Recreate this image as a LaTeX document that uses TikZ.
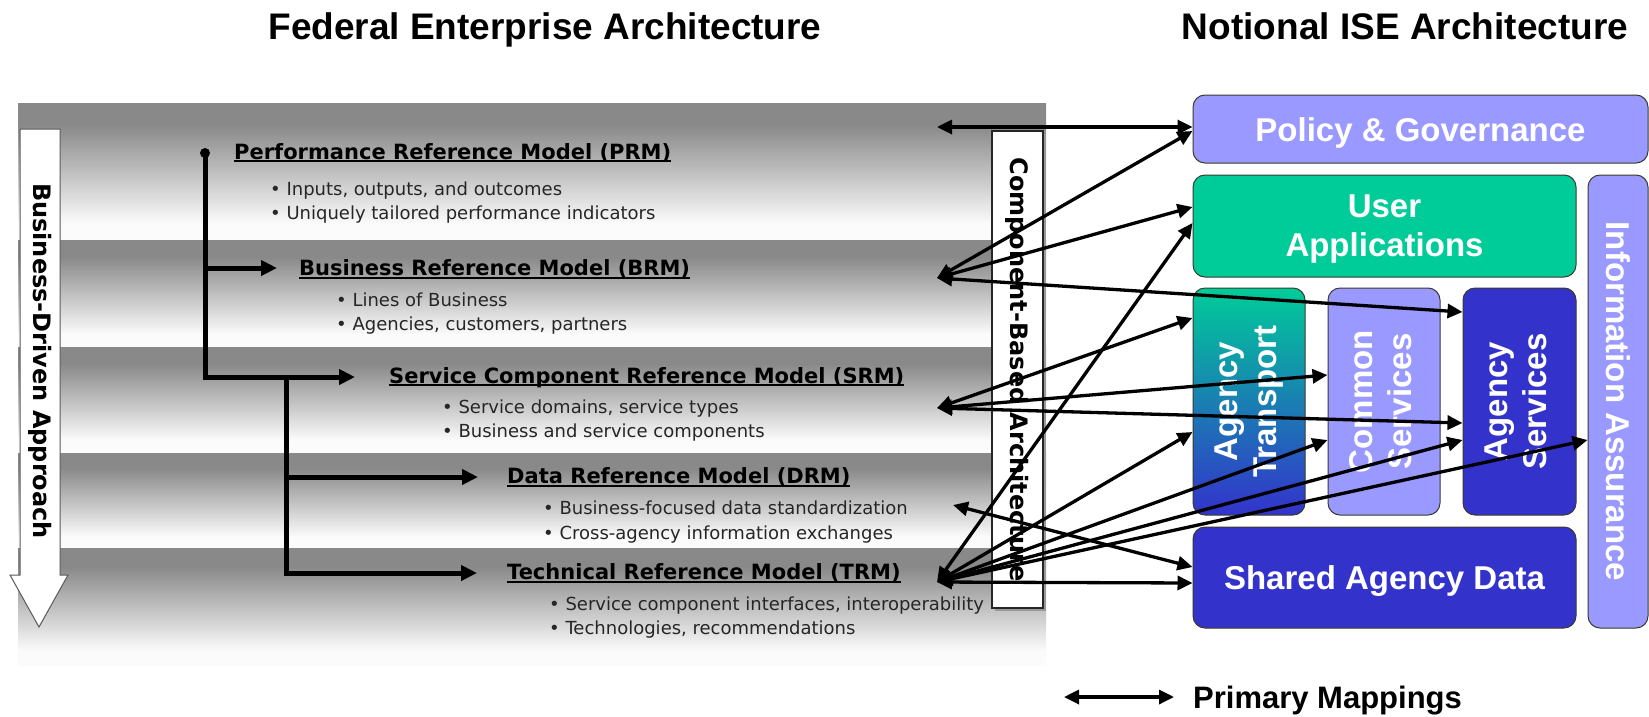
\documentclass[tikz,border=0pt]{standalone}
\usepackage{fontspec}
\setmainfont{Liberation Sans}
\newfontfamily\dvfont{DejaVu Sans}
\usepackage{graphicx}
\usetikzlibrary{arrows.meta,shadows}
\definecolor{banddark}{HTML}{898989}
\definecolor{bandlight}{HTML}{FBFBFB}
\definecolor{iselav}{HTML}{9999FF}
\definecolor{isegreen}{HTML}{00CC99}
\definecolor{iseblue}{HTML}{3333CC}
\definecolor{iseedge}{HTML}{3A3A2A}
\pgfdeclareverticalshading{bandshade}{100bp}{color(0bp)=(bandlight); color(31bp)=(bandlight); color(67bp)=(banddark); color(100bp)=(banddark)}
\newcommand\ulbf[1]{\sbox0{#1}\rlap{\rule[-3pt]{\wd0}{2pt}}\usebox0}
\begin{document}
\begin{tikzpicture}[x=1pt,y=-1pt,
  mtitle/.style={anchor=base west,inner sep=0,font=\dvfont\bfseries\fontsize{21}{25}\selectfont},
  bul/.style={anchor=base west,inner sep=0,text=black!85,font=\dvfont\fontsize{18}{22}\selectfont},
  flow/.style={line width=5pt,-{Triangle[length=16pt,width=15pt]}},
  mapline/.style={line width=3.3pt,{Triangle[length=15pt,width=14pt]}-{Triangle[length=15pt,width=14pt]}},
  isebox/.style={draw=iseedge,line width=1pt,rounded corners=12pt,inner sep=0,text=white,align=center,font=\bfseries\fontsize{33}{39}\selectfont},
  fhead/.style={anchor=base,inner sep=0,font=\bfseries\fontsize{37}{44}\selectfont},
  vlabel/.style={inner sep=0,font=\dvfont\bfseries\fontsize{24}{28}\selectfont}
]
\useasboundingbox (0,0) rectangle (1649,716);
\fill[white] (0,0) rectangle (1649,716);

% headings
\node[fhead] (fea) at (545,39) {Federal Enterprise Architecture};
\node[fhead] (nise) at (1405,39) {Notional ISE Architecture};

% bands
\foreach \a/\b in {103/240,240/347,347/453,453/548,548/665}
  \shade[shading=bandshade] (18,\a) rectangle (1046,\b);

% business-driven arrow
\draw[fill=white,draw=black!65,line width=1pt] (20,129) -- (60,129) -- (60,575) -- (68,575) -- (39,627) -- (10,575) -- (20,575) -- cycle;
\node[vlabel,rotate=-90] (bda) at (40,361) {Business-Driven Approach};

% reference model titles
\node[mtitle] (prm) at (234,159) {\ulbf{Performance Reference Model (PRM)}};
\node[bul] (prm1) at (270,195) {• Inputs, outputs, and outcomes};
\node[bul] (prm2) at (270,219) {• Uniquely tailored performance indicators};
\node[mtitle] (brm) at (299,275.5) {\ulbf{Business Reference Model (BRM)}};
\node[bul] (brm1) at (336,306) {• Lines of Business};
\node[bul] (brm2) at (336,330) {• Agencies, customers, partners};
\node[mtitle] (srm) at (389,383) {\ulbf{Service Component Reference Model (SRM)}};
\node[bul] (srm1) at (442,413) {• Service domains, service types};
\node[bul] (srm2) at (442,437) {• Business and service components};
\node[mtitle] (drm) at (507,483.5) {\ulbf{Data Reference Model (DRM)}};
\node[bul] (drm1) at (543,514) {• Business-focused data standardization};
\node[bul] (drm2) at (543,539) {• Cross-agency information exchanges};
\node[mtitle] (trm) at (507,579.5) {\ulbf{Technical Reference Model (TRM)}};
\node[bul] (trm1) at (549,610) {• Service component interfaces, interoperability};
\node[bul] (trm2) at (549,634) {• Technologies, recommendations};

% flow tree
\coordinate (dot) at (205,153);
\coordinate (jb) at (205,268);
\coordinate (j1) at (205,377);
\coordinate (j2) at (286,377);
\coordinate (jd) at (286,477);
\coordinate (j3) at (286,573);
\fill (dot) circle[radius=5pt];
\draw[flow,shorten >=34pt] (dot) -- (j1) -- (j1 -| srm.west);
\draw[flow,shorten >=22pt] (jb) -- (jb -| brm.west);
\draw[flow,shorten >=30pt] (j2) -- (j3) -- (j3 -| trm.west);
\draw[flow,shorten >=29pt] (jd) -- (jd -| drm.west);

% component-based architecture
\node[draw=black!85,line width=1.5pt,fill=white,minimum width=51,minimum height=477,inner sep=0,
  drop shadow={shadow xshift=3pt,shadow yshift=-3pt,fill=black!40,opacity=1},vlabel] (cba) at (1017.5,369.5)
  {\rotatebox{-90}{Component-Based Architecture}};

% ISE boxes
\node[isebox,fill=iselav,minimum width=455,minimum height=68,text height=24pt,text depth=0pt] (pg) at (1420.5,129) {Policy \& Governance};
\node[isebox,fill=isegreen,minimum width=383,minimum height=102,text depth=0pt] (ua) at (1384.5,226) {User\\Applications};
\node[isebox,fill=iselav,minimum width=60,minimum height=453] (ia) at (1618,401.5) {\rotatebox{-90}{Information Assurance}};
\node[isebox,top color=isegreen,bottom color=iseblue,minimum width=112,minimum height=227] (atr) at (1249,401.5)
  {\rotatebox{90}{\begin{tabular}{@{}c@{}}Agency\\Transport\end{tabular}}};
\node[isebox,fill=iselav,minimum width=112,minimum height=227] (csv) at (1384,401.5)
  {\rotatebox{90}{\begin{tabular}{@{}c@{}}Common\\Services\end{tabular}}};
\node[isebox,fill=iseblue,minimum width=113,minimum height=227] (asv) at (1519.5,401.5)
  {\rotatebox{90}{\begin{tabular}{@{}c@{}}Agency\\Services\end{tabular}}};
\node[isebox,fill=iseblue,minimum width=383,minimum height=101,text height=24pt,text depth=0pt] (sad) at (1384.5,577.5) {Shared Agency Data};

% mappings
\coordinate (pA) at (937,127);
\coordinate (bA) at (937,278);
\coordinate (sA) at (937,408);
\coordinate (dA) at (953,505);
\coordinate (tA) at (937,582);
\draw[mapline] (pA) -- (pA -| pg.west);
\draw[mapline] (bA) -- ([yshift=-2pt]pg.west);
\draw[mapline] (bA) -- ([yshift=19pt]ua.west);
\draw[mapline] (bA) -- ([yshift=89.5pt]asv.west);
\draw[mapline] (sA) -- ([yshift=83.5pt]atr.west);
\draw[mapline] (sA) -- ([yshift=26.5pt]csv.west);
\draw[mapline] (sA) -- ([yshift=-21.5pt]asv.west);
\draw[mapline] (dA) -- ([yshift=10.5pt]sad.west);
\draw[mapline] (tA) -- ([yshift=3pt]ua.west);
\draw[mapline] (tA) -- ([yshift=-30.5pt]atr.west);
\draw[mapline] (tA) -- ([yshift=-38.5pt]csv.west);
\draw[mapline] (tA) -- ([yshift=-38.5pt]asv.west);
\draw[mapline] (tA) -- ([yshift=-38.5pt]ia.west);
\draw[mapline] (tA) -- ([yshift=-5.5pt]sad.west);

% legend
\node[anchor=base west,inner sep=0,font=\bfseries\fontsize{31}{36}\selectfont] (leg) at (1193,708) {Primary Mappings};
\coordinate (legL) at (1064,697);
\draw[mapline,shorten >=19pt] (legL) -- (legL -| leg.west);
\end{tikzpicture}
\end{document}
